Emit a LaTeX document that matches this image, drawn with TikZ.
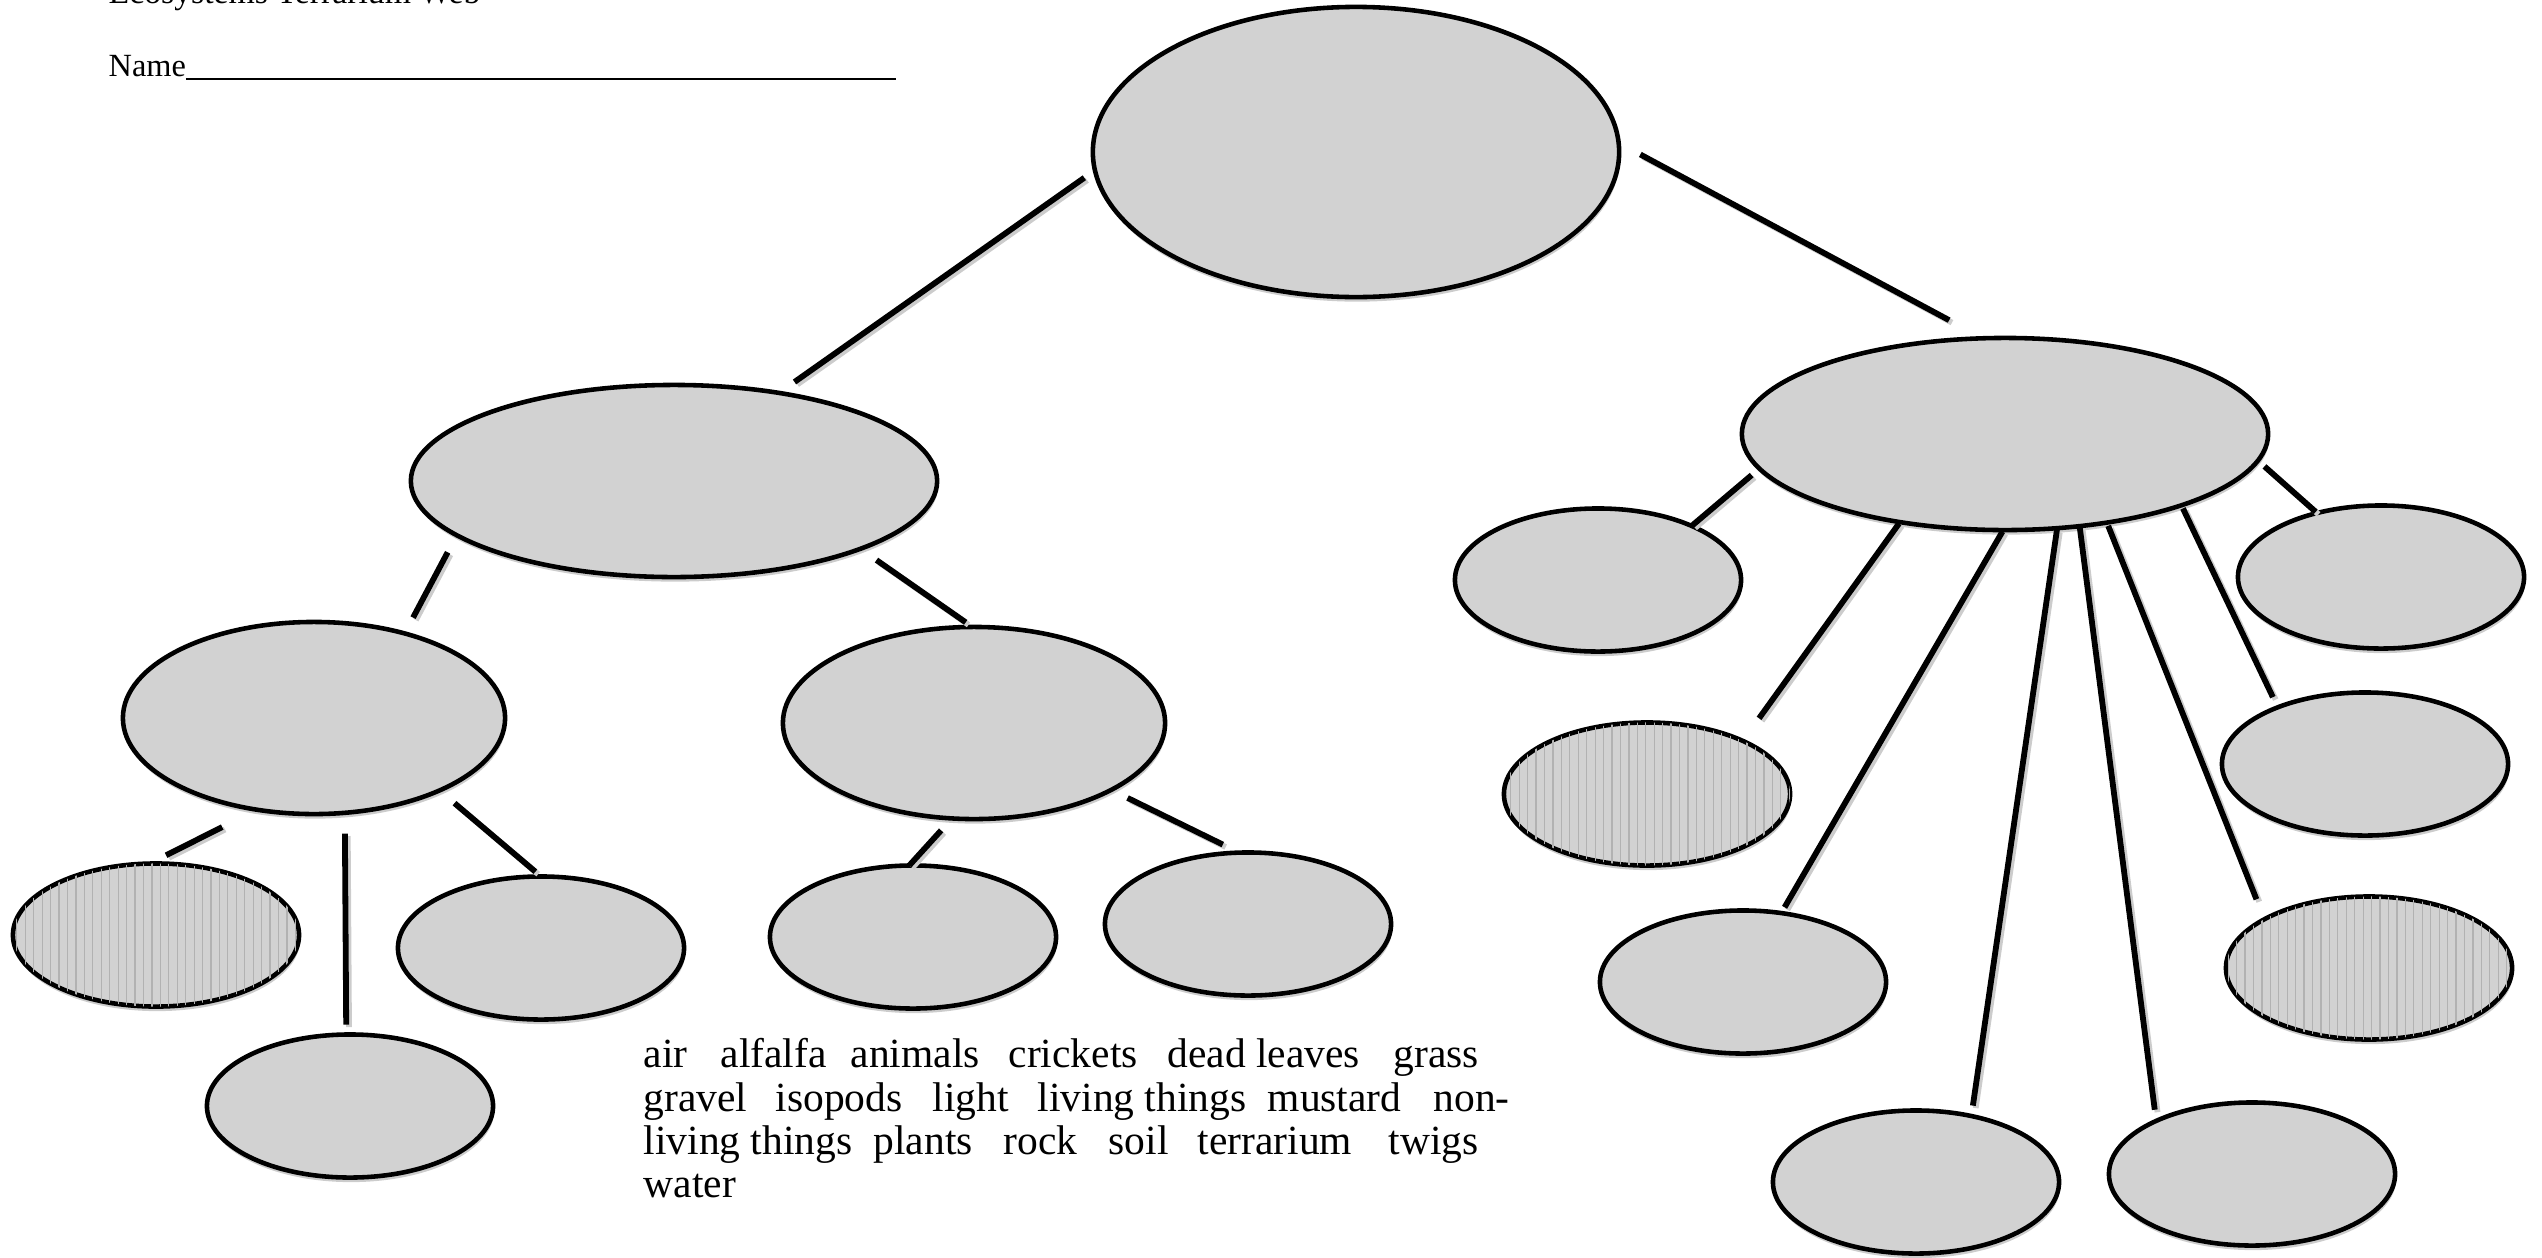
\documentclass[tikz,border=0pt]{standalone}
\usepackage{fontspec}
\setmainfont{Liberation Serif}
\usetikzlibrary{shapes.geometric,shadows,patterns.meta}
\definecolor{bubfill}{RGB}{210,210,210}
\tikzset{
  bub/.style={ellipse, draw=black, line width=1.3pt, fill=bubfill, inner sep=0pt, outer sep=0pt,
    drop shadow={shadow xshift=0.3pt, shadow yshift=-1.3pt, fill=gray!40, opacity=1}},
  bigtop/.style={minimum width=5.26cm, minimum height=2.90cm},
  big/.style={minimum width=5.26cm, minimum height=1.92cm},
  mid/.style={minimum width=3.82cm, minimum height=1.92cm},
  small/.style={minimum width=2.86cm, minimum height=1.43cm},
  textured/.style={postaction={pattern={Lines[angle=90,distance=2.4pt,line width=0.35pt]}, pattern color=gray!60}},
  conn/.style={line width=1.65pt, draw=black,
    preaction={draw=gray!40, line width=1.65pt, transform canvas={shift={(0.8pt,-0.7pt)}}}},
  word/.style={anchor=base west, inner sep=0pt, font=\fontsize{11.8}{14}\selectfont},
}
\begin{document}
\begin{tikzpicture}[x=0.01cm, y=-0.01cm]
\useasboundingbox (0,0) rectangle (2542,1257);

% header
\node[anchor=base west, inner sep=0pt, font=\fontsize{9.6}{11}\selectfont] (title) at (108,3) {Ecosystems Terrarium Web};
\node[anchor=base west, inner sep=0pt, font=\fontsize{9.2}{11}\selectfont] (name) at (108,76) {Name\rule[-1.1pt]{202pt}{0.6pt}};

% ellipses
\node[bub, bigtop] (top) at (1356,152) {};
\node[bub, big] (l1) at (674,481) {};
\node[bub, big] (r1) at (2005,434) {};
\node[bub, mid] (l2a) at (314,718) {};
\node[bub, mid] (l2b) at (974,723) {};
\node[bub, small, textured] (l3a) at (156,935) {};
\node[bub, small] (l3b) at (541,948) {};
\node[bub, small] (l3c) at (350,1106) {};
\node[bub, small] (l3d) at (913,937) {};
\node[bub, small] (l3e) at (1248,924) {};
\node[bub, small] (e11) at (1598,580) {};
\node[bub, small, textured] (e12) at (1647,794) {};
\node[bub, small] (e13) at (1743,982) {};
\node[bub, small] (e14) at (1916,1182) {};
\node[bub, small] (e15) at (2252,1174) {};
\node[bub, small, textured] (e16) at (2369,968) {};
\node[bub, small] (e17) at (2365,764) {};
\node[bub, small] (e18) at (2381,577) {};

% connectors
\draw[conn, shorten <=3.7pt, shorten >=5.4pt] (top.184.4) -- (l1.40.6);
\draw[conn, shorten <=7pt, shorten >=10.9pt] (top.2.2) -- (r1.103.6);
\draw[conn, shorten <=5.5pt, shorten >=5.1pt] (l1.194.2) -- (l2a.43.9);
\draw[conn, shorten <=5.6pt, shorten >=2.3pt] (l1.340.8) -- (l2b.91);
\draw[conn, shorten <=11pt, shorten >=5.2pt] (l2a.238.4) -- (l3a.95.2);
\draw[conn, shorten <=5.9pt, shorten >=2.8pt] (l2a.288.1) -- (l3c.93.9);
\draw[conn, shorten <=5.6pt, shorten >=2.1pt] (l2a.330.9) -- (l3b.90.8);
\draw[conn, shorten <=4.6pt] (l2b.257.3) -- (l3d.93);
\draw[conn, shorten <=5.2pt, shorten >=5.2pt] (l2b.334.2) -- (l3e.97.6);
\draw[conn, shorten <=2.9pt, shorten >=0.2pt] (r1.188.9) -- (e11.30.8);
\draw[conn, shorten <=0.5pt, shorten >=7.9pt] (r1.220.9) -- (e12.29.9);
\draw[conn, shorten <=0.5pt, shorten >=1.9pt] (r1.269.8) -- (e13.61.7);
\draw[conn, shorten <=0.5pt, shorten >=3pt] (r1.299.2) -- (e14.50);
\draw[conn, shorten <=0.5pt, shorten >=3.2pt] (r1.309.5) -- (e15.151.9);
\draw[conn, shorten <=1pt, shorten >=6.1pt] (r1.319.6) -- (e16.155.6);
\draw[conn, shorten <=1pt, shorten >=3.2pt] (r1.338.3) -- (e17.147.2);
\draw[conn, shorten <=2.5pt, shorten >=0.5pt] (r1.354.3) -- (e18.135.6);

% word bank
\node[word] (w1) at (643,1067) {air};
\node[word] (w2) at (720,1067) {alfalfa};
\node[word] (w3) at (850,1067) {animals};
\node[word] (w4) at (1008,1067) {crickets};
\node[word] (w5) at (1167,1067) {dead leaves};
\node[word] (w6) at (1393,1067) {grass};
\node[word] (w7) at (643,1111) {gravel};
\node[word] (w8) at (775,1111) {isopods};
\node[word] (w9) at (932,1111) {light};
\node[word] (w10) at (1037,1111) {living things};
\node[word] (w11) at (1267,1111) {mustard};
\node[word] (w12) at (1433,1111) {non-};
\node[word] (w13) at (643,1154) {living things};
\node[word] (w14) at (873,1154) {plants};
\node[word] (w15) at (1003,1154) {rock};
\node[word] (w16) at (1108,1154) {soil};
\node[word] (w17) at (1197,1154) {terrarium};
\node[word] (w18) at (1388,1154) {twigs};
\node[word] (w19) at (643,1197) {water};
\end{tikzpicture}
\end{document}
